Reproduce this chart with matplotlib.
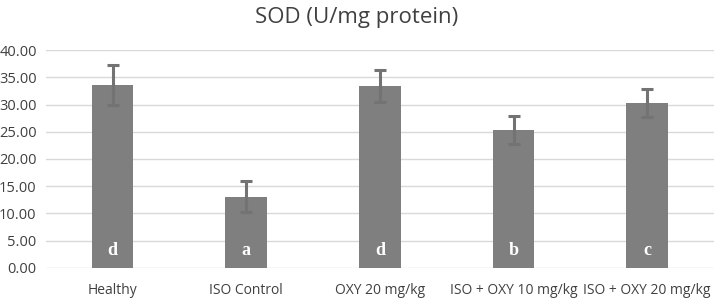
import numpy as np
import matplotlib
matplotlib.use("Agg")
import matplotlib.pyplot as plt

categories = ["Healthy", "ISO Control", "OXY 20 mg/kg", "ISO + OXY 10 mg/kg", "ISO + OXY 20 mg/kg"]
sod_mean = [33.6, 13.1, 33.4, 25.3, 30.3]
sod_err = [3.6, 2.9, 3.0, 2.6, 2.5]
letters = ["d", "a", "d", "b", "c"]
yticks = [0, 5, 10, 15, 20, 25, 30, 35, 40]

plt.rcParams['font.family'] = ['Open Sans', 'DejaVu Sans']

fig = plt.figure(figsize=(7.14, 3.0), dpi=100)
ax = fig.add_axes([0.064, 0.107, 0.936, 0.726])

x = np.arange(len(categories))
ax.bar(x, sod_mean, width=0.31, color="#7f7f7f", zorder=2)
ax.errorbar(x, sod_mean, yerr=sod_err, fmt="none", ecolor="#737373",
            elinewidth=2.2, capsize=4, capthick=2.2, zorder=3)

for xi, lt in zip(x, letters):
    ax.text(xi, 3.2, lt, ha="center", va="center", color="white",
            fontsize=13, fontweight="bold", family="Liberation Serif", zorder=4)

ax.set_xlim(-0.5, len(categories) - 0.5)
ax.set_ylim(0, 40)
ax.set_yticks(yticks)
ax.set_yticklabels([f"{v:.2f}" for v in yticks], fontsize=10.5, color="#404040")
ax.set_xticks(x)
ax.set_xticklabels(categories, fontsize=10, color="#404040")
ax.tick_params(axis="x", length=0, pad=11)
ax.tick_params(axis="y", length=0, pad=6.5)
ax.grid(axis="y", color="#d9d9d9", linewidth=1, zorder=0)
for s in ax.spines.values():
    s.set_visible(False)

fig.text(0.5, 0.94, "SOD (U/mg protein)", ha="center", va="center",
         fontsize=16, color="#404040")

fig.savefig("out.png", dpi=100)
